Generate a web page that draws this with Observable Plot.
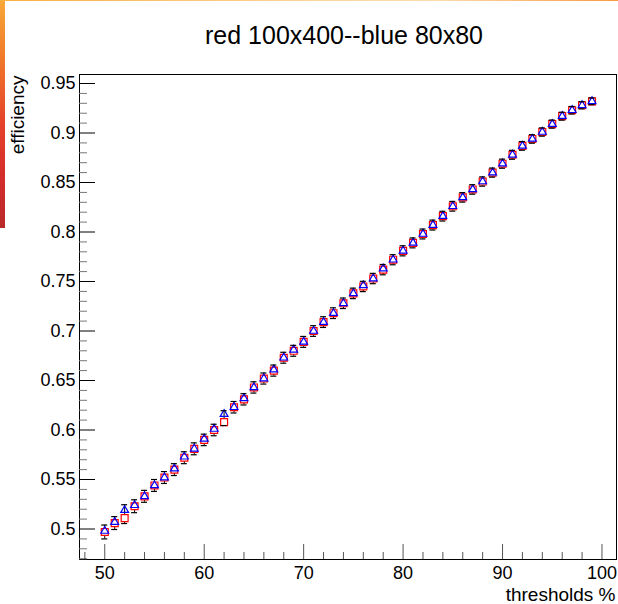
<!DOCTYPE html>
<html>
<head>
<meta charset="utf-8">
<script src="https://cdn.jsdelivr.net/npm/d3@7"></script>
<script src="https://cdn.jsdelivr.net/npm/@observablehq/plot@0.6"></script>
<style>
  html, body { margin: 0; padding: 0; background: #fff; }
  #wrap { position: relative; width: 618px; height: 604px; overflow: hidden; }
  #leftstrip { position: absolute; left: 0; top: 0; width: 5px; height: 228px;
    background: linear-gradient(to bottom, #f8a838 0%, #f07a2a 25%, #e5402a 55%, #d22c2c 80%, #b82a2a 100%); }
  #topline { position: absolute; left: 0; top: 0; width: 618px; height: 1px;
    background: linear-gradient(to right, #f8b040 0%, #fbd49a 50%, #fcdcb0 70%, #f89a40 100%); }
</style>
</head>
<body>
<div id="wrap">
  <div id="chart"></div>
  <div id="leftstrip"></div>
  <div id="topline"></div>
</div>
<script>
// ---- data ----
const thresholds = [50,51,52,53,54,55,56,57,58,59,60,61,62,63,64,65,66,67,68,69,70,71,72,73,74,75,76,77,78,79,80,81,82,83,84,85,86,87,88,89,90,91,92,93,94,95,96,97,98,99];
const redEff = [0.497,0.506,0.511,0.523,0.533,0.544,0.552,0.560,0.572,0.581,0.590,0.600,0.608,0.623,0.631,0.643,0.652,0.660,0.673,0.680,0.689,0.700,0.709,0.718,0.728,0.738,0.745,0.753,0.762,0.772,0.781,0.789,0.798,0.807,0.816,0.826,0.835,0.843,0.851,0.860,0.869,0.878,0.887,0.894,0.901,0.909,0.917,0.923,0.928,0.932];
const blueEff = [0.498,0.507,0.519,0.524,0.533,0.544,0.552,0.561,0.573,0.581,0.591,0.601,0.616,0.623,0.632,0.643,0.652,0.661,0.673,0.681,0.689,0.700,0.709,0.718,0.728,0.738,0.746,0.753,0.763,0.772,0.781,0.789,0.798,0.807,0.816,0.826,0.835,0.843,0.851,0.860,0.869,0.878,0.887,0.894,0.901,0.909,0.917,0.923,0.928,0.932];
const blackEff = [0.497,0.506,0.515,0.523,0.533,0.544,0.552,0.560,0.572,0.581,0.590,0.600,0.612,0.623,0.631,0.643,0.652,0.660,0.673,0.680,0.689,0.700,0.709,0.718,0.728,0.738,0.745,0.753,0.762,0.772,0.781,0.789,0.798,0.807,0.816,0.826,0.835,0.843,0.851,0.860,0.869,0.878,0.887,0.894,0.901,0.909,0.917,0.923,0.928,0.932];
const blackErr = [0.007,0.0065,0.0095,0.0065,0.006,0.006,0.006,0.006,0.006,0.006,0.0058,0.0058,0.0075,0.0058,0.0057,0.0057,0.0056,0.0056,0.0055,0.0055,0.0055,0.0054,0.0054,0.0054,0.0053,0.0053,0.0052,0.0052,0.0052,0.0051,0.0051,0.005,0.005,0.005,0.0049,0.0049,0.0048,0.0048,0.0047,0.0046,0.0046,0.0045,0.0044,0.0043,0.0042,0.0041,0.004,0.0038,0.0036,0.0034];

const xTicks = [50,60,70,80,90,100];
const xTickLabels = ["50","60","70","80","90","100"];
const xMinorTicks = [48,52,54,56,58,62,64,66,68,72,74,76,78,82,84,86,88,92,94,96,98];
const yTicks = [0.5,0.55,0.6,0.65,0.7,0.75,0.8,0.85,0.9,0.95];
const yTickLabels = ["0.5","0.55","0.6","0.65","0.7","0.75","0.8","0.85","0.9","0.95"];
const yMinorTicks = [0.47,0.48,0.49,0.51,0.52,0.53,0.54,0.56,0.57,0.58,0.59,0.61,0.62,0.63,0.64,0.66,0.67,0.68,0.69,0.71,0.72,0.73,0.74,0.76,0.77,0.78,0.79,0.81,0.82,0.83,0.84,0.86,0.87,0.88,0.89,0.91,0.92,0.93,0.94];

const titleText = "red 100x400--blue 80x80";
const xLabel = "thresholds %";
const yLabel = "efficiency";

const rows = thresholds.map((t, i) => ({t, red: redEff[i], blue: blueEff[i], k: blackEff[i], e: blackErr[i]}));

// ---- layout ----
const W = 618, H = 604;
const mL = 79, mR = 2, mT = 74, mB = 45;
const plotW = W - mL - mR, plotH = H - mT - mB;
const font = "'Liberation Sans', Arial, Helvetica, sans-serif";

const chart = Plot.plot({
  width: W, height: H,
  marginLeft: mL, marginRight: mR, marginTop: mT, marginBottom: mB,
  style: {fontFamily: font, fontSize: "18px", color: "black", background: "white"},
  x: {domain: [47.46, 101.46], label: null},
  y: {domain: [0.4692, 0.9591], label: null},
  marks: [
    Plot.frame({stroke: "black", strokeWidth: 1}),
    // inward ticks (ROOT style)
    Plot.ruleY(yMinorTicks, {y: d => d, stroke: "#777", insetRight: plotW - 8}),
    Plot.ruleY(yTicks, {y: d => d, stroke: "black", insetRight: plotW - 16}),
    Plot.ruleX(xMinorTicks, {x: d => d, stroke: "#555", insetTop: plotH - 7}),
    Plot.ruleX(xTicks, {x: d => d, stroke: "#555", insetTop: plotH - 15}),
    Plot.axisX(xTicks, {tickSize: 0, tickPadding: 7, fontSize: 18, tickFormat: (d) => xTickLabels[xTicks.indexOf(d)], fill: "black"}),
    Plot.axisY(yTicks, {tickSize: 0, tickPadding: 4, fontSize: 18, tickFormat: (d) => yTickLabels[yTicks.indexOf(d)], fill: "black"}),
    // error bars (black)
    Plot.ruleX(rows, {x: "t", y1: d => d.k - d.e, y2: d => d.k + d.e, stroke: "black", strokeWidth: 1}),
    // red open squares
    Plot.dot(rows, {x: "t", y: "red", symbol: "square", r: 3.9, stroke: "#ff0000", fill: "white", strokeWidth: 1.2}),
    // blue open triangles
    Plot.dot(rows, {x: "t", y: "blue", symbol: "triangle", r: 2.9, stroke: "#0000ff", fill: "none", strokeWidth: 1.2}),
    // error bar caps
    Plot.ruleY(rows, {x1: "t", x2: "t", y: d => d.k + d.e, stroke: "black", strokeWidth: 1.2, insetLeft: -3, insetRight: -3}),
    Plot.ruleY(rows, {x1: "t", x2: "t", y: d => d.k - d.e, stroke: "black", strokeWidth: 1.2, insetLeft: -3, insetRight: -3}),
    // title and axis titles
    Plot.text([titleText], {text: d => d, frameAnchor: "top", lineAnchor: "bottom", dy: -31, dx: -4, fontSize: 25, fill: "black"}),
    Plot.text([xLabel], {text: d => d, frameAnchor: "bottom-right", textAnchor: "end", lineAnchor: "bottom", dy: 41, dx: -1, fontSize: 19, fill: "black"}),
    Plot.text([yLabel], {text: d => d, frameAnchor: "top-left", textAnchor: "end", lineAnchor: "bottom", rotate: -90, dx: -55.5, dy: 1, fontSize: 19, fill: "black"})
  ]
});
document.getElementById("chart").appendChild(chart);
</script>
</body>
</html>
